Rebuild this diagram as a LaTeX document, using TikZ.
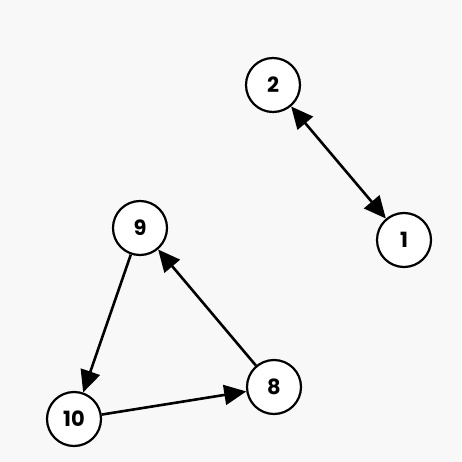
\documentclass[tikz,border=0pt]{standalone}
\usepackage{fontspec}
\setmainfont{Poppins}
\usetikzlibrary{arrows.meta}
\definecolor{cbg}{HTML}{F8F8F8}
\tikzset{
  every picture/.style={x=1pt, y=-1pt},
  vertex/.style={circle, draw=black, fill=white, line width=2.2pt, minimum size=54pt, inner sep=0pt, font=\fontsize{21}{24}\selectfont\bfseries},
  arrow/.style={-{Triangle[length=22pt, width=20pt]}, line width=2.6pt},
  both/.style={{Triangle[length=22pt, width=20pt]}-{Triangle[length=22pt, width=20pt]}, line width=2.6pt},
}
\begin{document}
\begin{tikzpicture}
  \fill[cbg] (0,0) rectangle (461,462);
  \useasboundingbox (0,0) rectangle (461,462);
  % nodes
  \node[vertex] (n2) at (273,85) {2};
  \node[vertex] (n1) at (404,240) {1};
  \node[vertex] (n9) at (140,228) {9};
  \node[vertex] (n10) at (74,419) {10};
  \node[vertex] (n8) at (274,387) {8};
  % edges
  \draw[both] (n2) -- (n1);
  \draw[arrow] (n9) -- (n10);
  \draw[arrow] (n10) -- (n8);
  \draw[arrow] (n8) -- (n9);
\end{tikzpicture}
\end{document}
